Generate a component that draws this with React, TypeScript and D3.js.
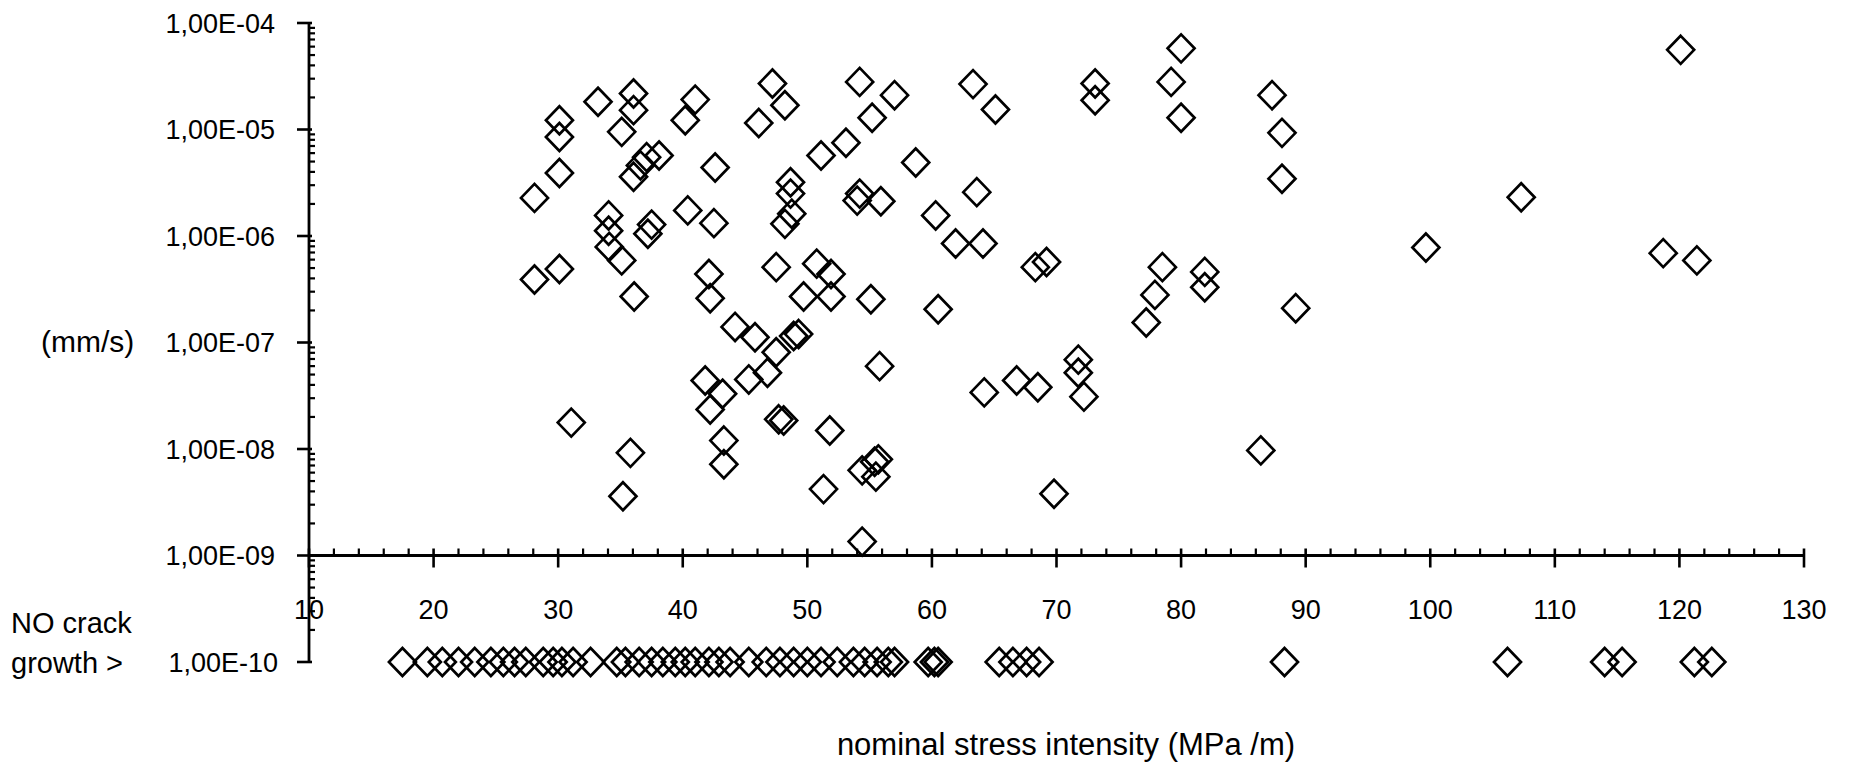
import React, { useEffect } from "react";
import * as d3 from "d3";

// ---- data ----
const growthK: number[] = [
  28.1, 28.1, 30.1, 30.1, 30.1, 30.1, 31.05, 33.2, 34.05, 34.05, 34.1, 35.1, 35.1, 35.2, 35.8,
  36.05, 36.05, 36.05, 36.6, 36.1, 37.1, 38.1, 37.5, 37.2, 40.2, 41.0, 40.4, 42.5, 42.6, 42.1,
  42.2, 41.8, 42.2, 43.2, 43.3, 43.3, 44.2, 45.3, 45.8, 46.1, 47.2, 48.2, 46.8, 47.5, 47.5,
  47.7, 48.1, 48.2, 48.75, 48.65, 48.65, 48.9, 49.3, 49.7, 50.75, 51.1, 51.9, 51.9, 51.8, 51.3,
  53.1, 54.2, 54.2, 54.0, 55.9, 55.2, 57.0, 55.1, 55.8, 54.4, 55.5, 55.4, 55.7, 54.4, 58.7,
  60.3, 60.5, 61.9, 63.3, 63.6, 64.1, 64.2, 65.1, 66.8, 68.3, 69.2, 68.5, 69.8, 71.75, 71.75,
  72.2, 73.1, 73.1, 77.2, 77.9, 78.5, 79.2, 80.0, 80.0, 81.9, 81.9, 86.4, 87.3, 88.1, 88.1,
  89.2, 99.65, 107.3, 118.7, 120.1, 121.4,
];
const growthRate: number[] = [
  2.28e-6, 3.9e-7, 1.22e-5, 8.5e-6, 3.9e-6, 4.9e-7, 1.77e-8, 1.82e-5, 1.56e-6, 1.12e-6, 7.9e-7, 9.5e-6, 5.9e-7, 3.6e-9, 9.2e-9,
  2.18e-5, 1.52e-5, 3.6e-6, 4.6e-6, 2.7e-7, 5.5e-6, 5.7e-6, 1.28e-6, 1.05e-6, 1.22e-5, 1.91e-5, 1.74e-6, 1.32e-6, 4.4e-6, 4.4e-7,
  2.6e-7, 4.4e-8, 2.35e-8, 3.3e-8, 1.2e-8, 7.2e-9, 1.4e-7, 4.5e-8, 1.12e-7, 1.15e-5, 2.7e-5, 1.69e-5, 5.2e-8, 8.1e-8, 5.1e-7,
  1.9e-8, 1.85e-8, 1.3e-6, 1.62e-6, 3.2e-6, 2.5e-6, 1.15e-7, 1.2e-7, 2.7e-7, 5.5e-7, 5.7e-6, 4.4e-7, 2.7e-7, 1.49e-8, 4.2e-9,
  7.5e-6, 2.8e-5, 2.5e-6, 2.15e-6, 2.12e-6, 1.29e-5, 2.1e-5, 2.55e-7, 6.0e-8, 6.3e-9, 5.5e-9, 7.6e-9, 8.0e-9, 1.35e-9, 4.9e-6,
  1.56e-6, 2.05e-7, 8.5e-7, 2.67e-5, 2.58e-6, 8.5e-7, 3.4e-8, 1.54e-5, 4.4e-8, 5.1e-7, 5.7e-7, 3.8e-8, 3.8e-9, 6.9e-8, 5.2e-8,
  3.1e-8, 2.7e-5, 1.88e-5, 1.54e-7, 2.8e-7, 5.1e-7, 2.8e-5, 5.78e-5, 1.29e-5, 4.6e-7, 3.3e-7, 9.7e-9, 2.1e-5, 9.3e-6, 3.45e-6,
  2.1e-7, 7.8e-7, 2.31e-6, 6.9e-7, 5.6e-5, 5.9e-7,
];
const noGrowthK: number[] = [
  17.5, 19.5, 20.7, 22.0, 23.3, 24.6, 25.6, 26.5, 27.4, 28.8, 29.6, 30.3, 31.2, 32.6, 34.7,
  35.4, 36.5, 37.5, 38.4, 39.4, 40.2, 41.0, 42.1, 42.9, 43.8, 45.3, 46.7, 47.8, 48.9, 50.0,
  51.1, 52.4, 53.7, 54.6, 55.6, 56.5, 57.0, 59.7, 60.2, 60.5, 65.4, 66.5, 67.6, 68.6, 88.3,
  106.2, 114.0, 115.4, 121.2, 122.6,
];
const NO_GROWTH_RATE = 1e-10;

const xTicks: number[] = [10, 20, 30, 40, 50, 60, 70, 80, 90, 100, 110, 120, 130];
const yTicks: number[] = [1e-4, 1e-5, 1e-6, 1e-7, 1e-8, 1e-9, 1e-10];
const yTickLabels: string[] = ["1,00E-04", "1,00E-05", "1,00E-06", "1,00E-07", "1,00E-08", "1,00E-09", "1,00E-10"];

const W = 1849;
const H = 774;
const FONT = "'Liberation Sans', Arial, Helvetica, sans-serif";

export default function App() {
  useEffect(() => {
    document.body.style.margin = "0";
    document.body.style.overflow = "hidden";
  }, []);

  const x = d3.scaleLinear().domain([10, 130]).range([309, 1804]);
  const y = d3.scaleLog().domain([1e-10, 1e-4]).range([662, 23]);

  const axisX = x(10);
  const axisY = y(1e-9);

  // minor ticks
  const yMinor: number[] = [];
  for (let e = -10; e < -4; e++) {
    for (let k = 2; k <= 9; k++) yMinor.push(k * Math.pow(10, e));
  }
  const xMinor: number[] = d3.range(12, 130, 2).filter((v) => v % 10 !== 0);

  const diamond = "M0,-14L13.5,0L0,14L-13.5,0Z";

  const growth = growthK.map((k, i) => ({ k, r: growthRate[i] }));
  const noGrowth = noGrowthK.map((k) => ({ k, r: NO_GROWTH_RATE }));

  const stroke = "#000";

  return (
    <svg
      width={W}
      height={H}
      style={{ position: "absolute", left: 0, top: 0, background: "#fff" }}
      fontFamily={FONT}
    >
      <rect x={0} y={0} width={W} height={H} fill="#fff" />

      {/* y axis */}
      <line x1={axisX} x2={axisX} y1={y(1e-4)} y2={y(1e-10)} stroke={stroke} strokeWidth={2.8} />
      {yTicks.map((t) => (
        <line key={"ym" + t} x1={axisX - 12} x2={axisX + 3} y1={y(t)} y2={y(t)} stroke={stroke} strokeWidth={2.6} />
      ))}
      {yMinor.map((t, i) => (
        <line key={"yn" + i} x1={axisX} x2={axisX + 6} y1={y(t)} y2={y(t)} stroke={stroke} strokeWidth={2.2} />
      ))}
      {yTicks.map((t, i) => (
        <text key={"yl" + t} x={i === 6 ? 278 : 275} y={y(t) + 9.5} fontSize={27} textAnchor="end" fill="#000">
          {yTickLabels[i]}
        </text>
      ))}

      {/* x axis */}
      <line x1={axisX} x2={x(130)} y1={axisY} y2={axisY} stroke={stroke} strokeWidth={2.8} />
      {xTicks.map((t) => (
        <line key={"xm" + t} x1={x(t)} x2={x(t)} y1={axisY - 7} y2={axisY + 12} stroke={stroke} strokeWidth={2.6} />
      ))}
      {xMinor.map((t) => (
        <line key={"xn" + t} x1={x(t)} x2={x(t)} y1={axisY - 7} y2={axisY} stroke={stroke} strokeWidth={2.2} />
      ))}
      {xTicks.map((t) => (
        <text key={"xl" + t} x={x(t)} y={619} fontSize={27} textAnchor="middle" fill="#000">
          {t}
        </text>
      ))}

      {/* axis titles */}
      <text x={41} y={352} fontSize={30} fill="#000">(mm/s)</text>
      <text x={11} y={633} fontSize={29} fill="#000">NO crack</text>
      <text x={11} y={673} fontSize={29} fill="#000">growth &gt;</text>
      <text x={1066} y={755} fontSize={31} textAnchor="middle" fill="#000">
        nominal stress intensity (MPa /m)
      </text>

      {/* points */}
      {growth.map((d, i) => (
        <path
          key={"g" + i}
          d={diamond}
          transform={`translate(${x(d.k)},${y(d.r)})`}
          fill="none"
          stroke={stroke}
          strokeWidth={2.7}
        />
      ))}
      {noGrowth.map((d, i) => (
        <path
          key={"n" + i}
          d={diamond}
          transform={`translate(${x(d.k)},${y(d.r)})`}
          fill="none"
          stroke={stroke}
          strokeWidth={2.7}
        />
      ))}
    </svg>
  );
}
